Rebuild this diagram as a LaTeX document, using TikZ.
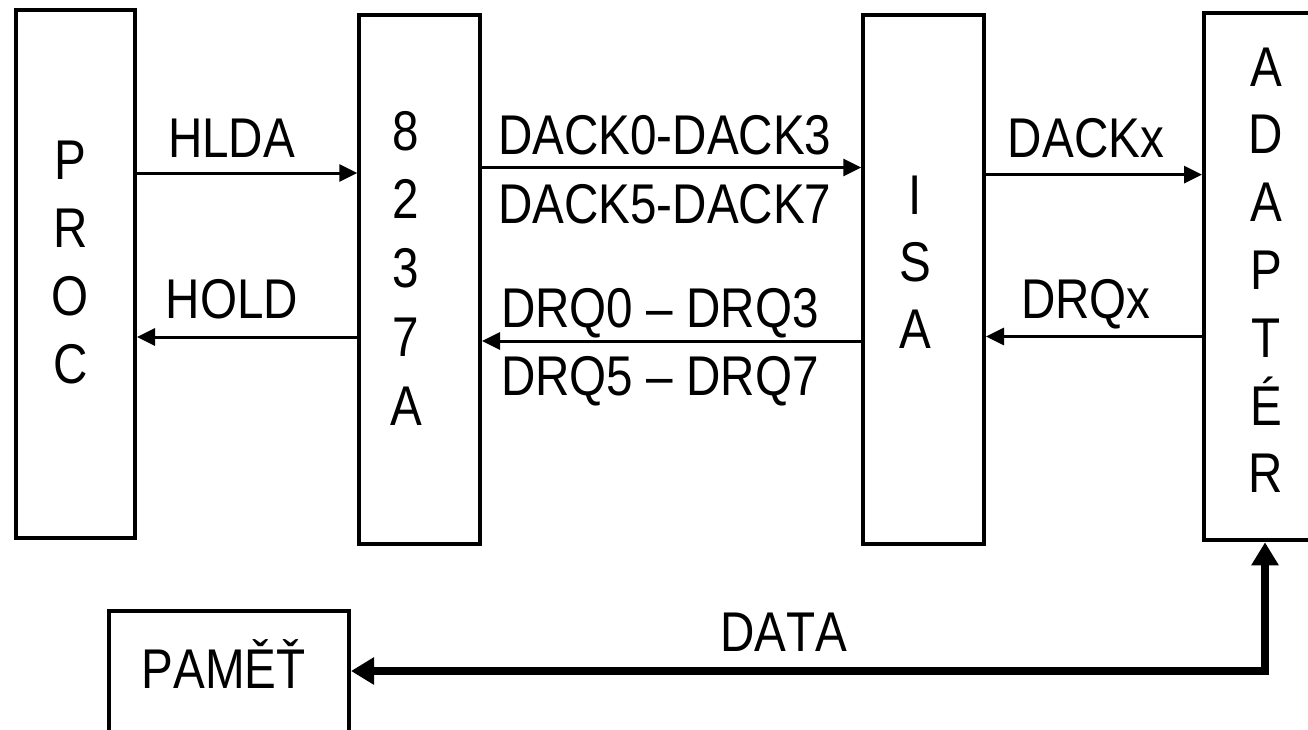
\documentclass[tikz,border=0pt]{standalone}
\usepackage{fontspec}
\setmainfont[FakeStretch=0.85,Kerning=Off]{Liberation Sans}
\usetikzlibrary{arrows.meta}
\begin{document}
\begin{tikzpicture}[x=1pt,y=-1pt,
  box/.style={draw,line width=4pt,inner sep=0pt,rectangle},
  lbl/.style={inner sep=0pt,font=\fontsize{56}{68}\selectfont},
  sig/.style={line width=3pt,-{Triangle[length=18pt,width=17pt]}},
  bus/.style={line width=8.5pt,{Triangle[length=23pt,width=26pt]}-{Triangle[length=23pt,width=26pt]}}]
\clip (0,0) rectangle (1308,729);
% boxes
\node[box,minimum width=119.3pt,minimum height=528pt] (proc) at (75.35,274) {};
\node[box,minimum width=120.7pt,minimum height=528.8pt] (c8237) at (419.65,279.1) {};
\node[box,minimum width=120.7pt,minimum height=528.8pt] (isa) at (923.65,279.1) {};
\node[box,minimum width=122pt,minimum height=527.1pt] (adapter) at (1265,276.75) {};
\node[box,minimum width=240pt,minimum height=169pt] (pamet) at (229,695.5) {};
% stacked letters
\foreach \ch [count=\i from 0] in {P,R,O,C}
  \node[lbl,anchor=base] (procL\i) at (70.5,{179+68*\i}) {\ch};
\foreach \ch [count=\i from 0] in {8,2,3,7,A}
  \node[lbl,anchor=base] (dmaL\i) at (406,{150+68.75*\i}) {\ch};
\foreach \ch [count=\i from 0] in {I,S,A}
  \node[lbl,anchor=base] (isaL\i) at (915,{214+67*\i}) {\ch};
\foreach \ch [count=\i from 0] in {A,D,A,P,T,É,R}
  \node[lbl,anchor=base] (adL\i) at (1266,{86+67.8*\i}) {\ch};
\node[lbl,anchor=base] (pametL) at (223.5,688) {PAMĚŤ};
% labels
\node[lbl,anchor=base] (hlda) at (231.5,157) {HLDA};
\node[lbl,anchor=base] (hold) at (232,318) {HOLD};
\node[lbl,anchor=base west] (dack03) at (498,154) {DACK0-DACK3};
\node[lbl,anchor=base west] (dack57) at (498,223) {DACK5-DACK7};
\node[lbl,anchor=base west] (drq03) at (501,327) {DRQ0 – DRQ3};
\node[lbl,anchor=base west] (drq57) at (501,395) {DRQ5 – DRQ7};
\node[lbl,anchor=base] (dackx) at (1086,157) {DACKx};
\node[lbl,anchor=base] (drqx) at (1086,318) {DRQx};
\node[lbl,anchor=base] (data) at (784,651) {DATA};
% connectors
\draw[sig] (proc.east |- 0,173) -- (c8237.west |- 0,173);
\draw[sig] (c8237.west |- 0,337) -- (proc.east |- 0,337);
\draw[sig] (c8237.east |- 0,167.5) -- (isa.west |- 0,167.5);
\draw[sig] (isa.west |- 0,341) -- (c8237.east |- 0,341);
\draw[sig] (isa.east |- 0,174.6) -- (adapter.west |- 0,174.6);
\draw[sig] (adapter.west |- 0,336.5) -- (isa.east |- 0,336.5);
\coordinate (dc) at (1265,671);
\draw[bus] (adapter.south) -- (dc) -- (pamet.east |- dc);
\end{tikzpicture}
\end{document}
